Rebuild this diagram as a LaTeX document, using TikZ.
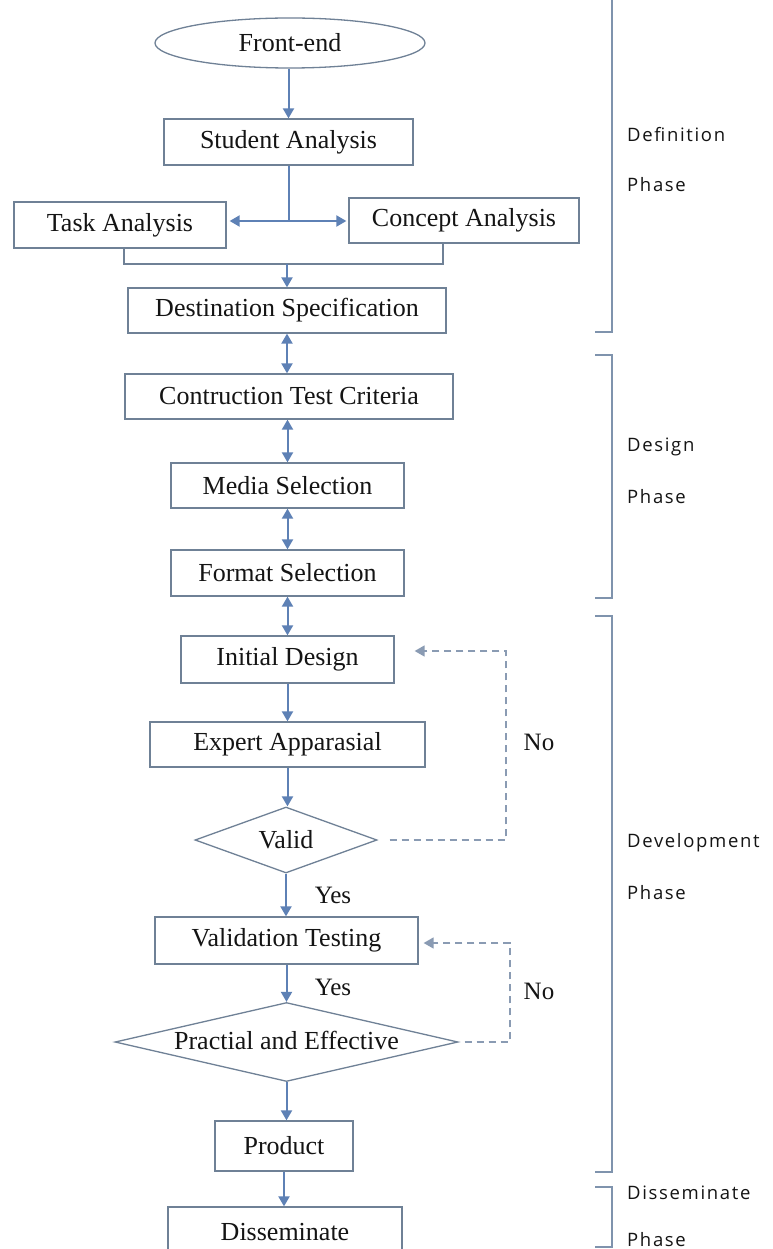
\documentclass[tikz,border=0pt]{standalone}
\usepackage{fontspec}
\setmainfont{Liberation Serif}
\newfontfamily\phasefont[LetterSpace=9]{Open Sans}
\usetikzlibrary{shapes.geometric,arrows.meta,calc}
\definecolor{boxc}{HTML}{6F8196}
\definecolor{arrc}{HTML}{5E81B5}
\definecolor{dashc}{HTML}{8A9BB3}
\definecolor{brc}{HTML}{7F93AD}
\definecolor{txt}{HTML}{141414}
\begin{document}
\begin{tikzpicture}[x=1pt,y=-1pt,
  every node/.style={text=txt},
  sbox/.style={draw=boxc, line width=1.3pt, rectangle, inner sep=0pt,
    minimum width=#1, font=\fontsize{26}{30}\selectfont},
  dmd/.style={draw=boxc, line width=1.3pt, diamond, inner sep=0pt,
    font=\fontsize{26}{30}\selectfont},
  lbl/.style={font=\fontsize{25}{30}\selectfont, inner sep=0pt},
  phase/.style={font=\phasefont\fontsize{18.5}{22}\selectfont, anchor=west, inner sep=0pt},
  link/.style={draw=arrc, line width=2pt},
  arr/.style={link, -{Triangle[length=10pt,width=11pt]}},
  darr/.style={link, {Triangle[length=10pt,width=11pt]}-{Triangle[length=10pt,width=11pt]}},
  back/.style={draw=dashc, line width=1.6pt, dash pattern=on 7pt off 5pt,
    -{Triangle[length=10pt,width=11pt]}},
  bracket/.style={draw=brc, line width=1.8pt}
]
\useasboundingbox (0,0) rectangle (772,1249);
\clip (0,0) rectangle (772,1249);
\fill[white] (0,0) rectangle (772,1249);

% nodes
\node[draw=boxc, line width=1.3pt, ellipse, inner sep=0pt, minimum width=270, minimum height=50,
  font=\fontsize{26}{30}\selectfont] (fe) at (290,43) {Front-end};
\node[sbox=249, minimum height=46] (sa) at (288.5,142) {Student Analysis};
\node[sbox=212, minimum height=46] (ta) at (120,225) {Task Analysis};
\node[sbox=230, minimum height=45] (ca) at (464,220.5) {Concept Analysis};
\node[sbox=318, minimum height=45] (ds) at (287,310.5) {Destination Specification};
\node[sbox=328, minimum height=45] (ct) at (289,396.5) {Contruction Test Criteria};
\node[sbox=233, minimum height=45] (ms) at (287.5,485.5) {Media Selection};
\node[sbox=233, minimum height=46] (fs) at (287.5,573) {Format Selection\hspace{17pt}};
\node[sbox=213, minimum height=47] (id) at (287.5,659.5) {Initial Design};
\node[sbox=275, minimum height=45] (ea) at (287.5,744.5) {Expert Apparasial};
\node[dmd, minimum width=182, minimum height=66] (va) at (286,840) {\makebox[0pt]{Valid}};
\node[sbox=263, minimum height=47] (vt) at (286.5,940.5) {Validation Testing};
\node[dmd, minimum width=343, minimum height=79] (pe) at (286.5,1042) {\makebox[0pt]{\raisebox{4pt}{Practial and Effective}}};
\node[sbox=138, minimum height=50] (pr) at (284,1146) {Product\hspace{18pt}};
\node[sbox=234, minimum height=50] (dm) at (285,1232) {Disseminate};

\node[lbl] (yes1) at (333,895) {Yes};
\node[lbl] (yes2) at (333,987) {Yes};
\node[lbl] (no1) at (539,742) {No};
\node[lbl] (no2) at (539,991) {No};

% connectors
\draw[arr] (fe.south -| sa.north) -- (sa.north);
\coordinate (j1) at (288.5,221);
\draw[link] (sa.south) -- (j1);
\draw[arr, shorten >=3pt] (j1) -- (ta.east |- j1);
\draw[arr, shorten >=2pt] (j1) -- (ca.west |- j1);
\coordinate (m1) at (124,264);
\coordinate (m2) at (443,264);
\draw[link, line width=1.5pt, draw=boxc] (ta.south -| m1) -- (m1) -- (m2) -- (ca.south -| m2);
\draw[arr] (ds.north |- m1) -- (ds.north);
\draw[darr] (ds.south) -- (ds.south |- ct.north);
\draw[darr] (ms.north |- ct.south) -- (ms.north);
\draw[darr] (ms.south) -- (ms.south |- fs.north);
\draw[darr] (fs.south) -- (fs.south |- id.north);
\draw[arr] (id.south) -- (id.south |- ea.north);
\draw[arr] (ea.south) -- (ea.south |- va.north);
\draw[arr] (va.south) -- (va.south |- vt.north);
\draw[arr] (vt.south) -- (vt.south |- pe.north);
\draw[arr] (pe.south) -- (pe.south |- pr.north);
\draw[arr] (pr.south) -- (pr.south |- dm.north);

\coordinate (l1) at (506,840);
\coordinate (l2) at (506,651);
\draw[back, shorten <=12pt, shorten >=20pt] (va.east) -- (l1) -- (l2) -- (l2 -| id.east);
\coordinate (l3) at (510,1042);
\coordinate (l4) at (510,943);
\draw[back, shorten <=6pt, shorten >=5pt] (pe.east) -- (l3) -- (l4) -- (l4 -| vt.east);

% phase brackets
\draw[bracket] (595,332) -- (612,332) -- (612,-5);
\draw[bracket] (595,355) -- (612,355) -- (612,598) -- (595,598);
\draw[bracket] (595,616) -- (612,616) -- (612,1172) -- (595,1172);
\draw[bracket] (595,1187) -- (612,1187) -- (612,1247) -- (595,1247);

\node[phase] (p1a) at (627,135) {Definition};
\node[phase] (p1b) at (627,185) {Phase};
\node[phase] (p2a) at (627,447) {Design};
\node[phase] (p2b) at (627,497) {Phase};
\node[phase] (p3a) at (627,843) {Development};
\node[phase] (p3b) at (627,893) {Phase};
\node[phase] (p4a) at (627,1193) {Disseminate};
\node[phase] (p4b) at (627,1240) {Phase};
\end{tikzpicture}
\end{document}
